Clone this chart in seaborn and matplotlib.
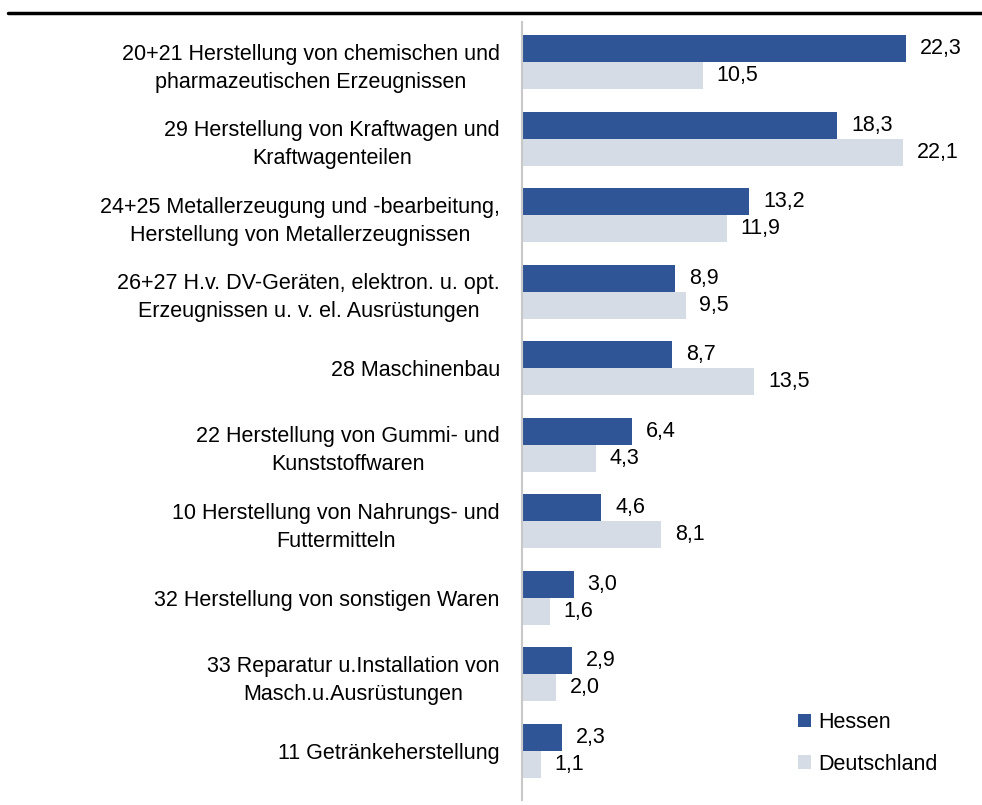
import matplotlib
matplotlib.use('Agg')
import matplotlib.pyplot as plt
from matplotlib.lines import Line2D
import seaborn as sns
import pandas as pd

# Daten
branchen = [
    '20+21 Herstellung von chemischen und\npharmazeutischen Erzeugnissen',
    '29 Herstellung von Kraftwagen und\nKraftwagenteilen',
    '24+25 Metallerzeugung und -bearbeitung,\nHerstellung von Metallerzeugnissen',
    '26+27 H.v. DV-Geräten, elektron. u. opt.\nErzeugnissen u. v. el. Ausrüstungen',
    '28 Maschinenbau',
    '22 Herstellung von Gummi- und\nKunststoffwaren',
    '10 Herstellung von Nahrungs- und\nFuttermitteln',
    '32 Herstellung von sonstigen Waren',
    '33 Reparatur u.Installation von\nMasch.u.Ausrüstungen',
    '11 Getränkeherstellung',
]
hessen = [22.3, 18.3, 13.2, 8.9, 8.7, 6.4, 4.6, 3.0, 2.9, 2.3]
deutschland = [10.5, 22.1, 11.9, 9.5, 13.5, 4.3, 8.1, 1.6, 2.0, 1.1]
regionen = ['Hessen', 'Deutschland']
farben = ['#2F5597', '#D6DCE5']

df = pd.DataFrame({
    'branche': branchen * 2,
    'wert': hessen + deutschland,
    'region': ['Hessen'] * len(hessen) + ['Deutschland'] * len(deutschland),
})

sns.set_style('white')
plt.rcParams['font.family'] = ['Liberation Sans', 'DejaVu Sans']
plt.rcParams['text.color'] = 'black'
plt.rcParams['ytick.color'] = 'black'

fs = 15.5

fig = plt.figure(figsize=(9.82, 8.05), dpi=100)
ax = fig.add_axes([522 / 982, 1 - 800 / 805, 1 - 522 / 982 - 0.02, 778 / 805])

sns.barplot(data=df, x='wert', y='branche', hue='region', hue_order=regionen,
            palette=farben, orient='h', width=0.706, saturation=1,
            errorbar=None, linewidth=0, ax=ax)

# Wertebeschriftung mit Komma
for cont in ax.containers:
    labels = [f'{v:.1f}'.replace('.', ',') for v in cont.datavalues]
    ax.bar_label(cont, labels=labels, padding=10, fontsize=fs, color='black')

ax.set_xlim(0, 25.57)
ax.set_ylim(9.647, -0.523)
ax.set_xlabel('')
ax.set_ylabel('')
ax.set_xticks([])
ax.tick_params(axis='y', length=0, pad=16, labelsize=fs, labelcolor='black')
for lab in ax.get_yticklabels():
    lab.set_multialignment('center')
    lab.set_linespacing(1.45)

for s in ['top', 'right', 'bottom']:
    ax.spines[s].set_visible(False)
ax.spines['left'].set_color('#C8C8C8')
ax.spines['left'].set_linewidth(1.5)

leg = ax.legend(loc='lower left', bbox_to_anchor=(779 / 982, 11 / 805),
                bbox_transform=fig.transFigure, frameon=False, fontsize=fs,
                handlelength=0.6, handleheight=0.6, handletextpad=0.3,
                labelspacing=0.95)

# Linie unter dem Titel
fig.add_artist(Line2D([8 / 982, 1], [1 - 13 / 805, 1 - 13 / 805],
                      color='black', linewidth=2.5))

fig.savefig('out.png', dpi=100)
